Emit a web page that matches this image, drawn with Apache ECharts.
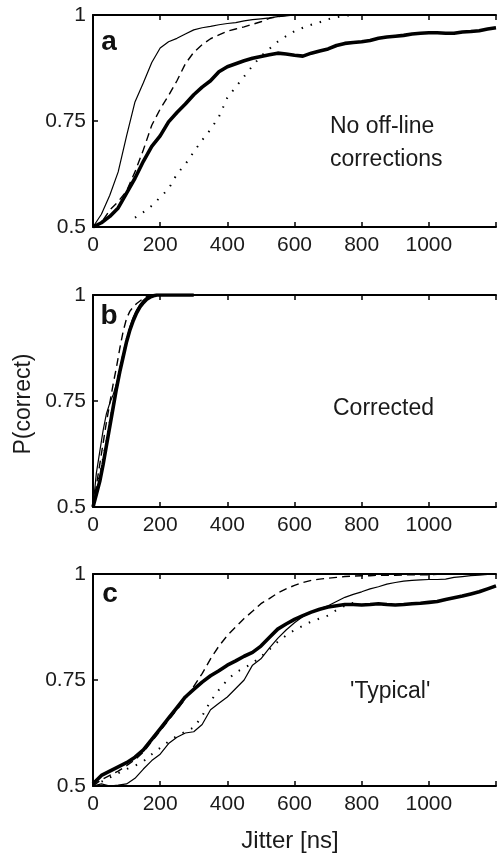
<!DOCTYPE html>
<html>
<head>
<meta charset="utf-8">
<script src="https://cdn.jsdelivr.net/npm/echarts@6/dist/echarts.min.js"></script>
<style>
html,body{margin:0;padding:0;background:#fff;}
#chart{width:499px;height:854px;}
</style>
</head>
<body>
<div id="chart"></div>
<script>
// ---------- data ----------
const xTicks = [0, 200, 400, 600, 800, 1000];
const yTicks = [0.5, 0.75, 1];

// Panel a : "No off-line corrections" (x step 25 ns)
const xA = [0,25,50,75,100,125,150,175,200,225,250,275,300,325,350,375,400,425,450,475,500,525,550,575,600,625,650,675,700,725,750,775,800,825,850,875,900,925,950,975,1000,1025,1050,1075,1100,1125,1150,1175,1200];
const thinA = [0.50,0.53,0.575,0.63,0.715,0.795,0.84,0.888,0.922,0.937,0.945,0.955,0.965,0.970,0.973,0.977,0.980,0.982,0.986,0.989,0.991,0.993,0.996,0.998,1,1,1,1,1,1,1,1,1,null,null,null,null,null,null,null,null,null,null,null,null,null,null,null,null];
const dashA = [0.50,0.51,0.54,0.56,0.585,0.63,0.682,0.74,0.778,0.81,0.845,0.885,0.912,0.93,0.944,0.953,0.962,0.967,0.972,0.978,0.984,0.992,0.996,0.999,1,1,1,1,1,1,1,1,1,null,null,null,null,null,null,null,null,null,null,null,null,null,null,null,null];
const thickA = [0.50,0.51,0.525,0.545,0.58,0.615,0.655,0.69,0.715,0.748,0.77,0.79,0.812,0.83,0.845,0.866,0.878,0.885,0.892,0.898,0.902,0.906,0.91,0.908,0.905,0.903,0.91,0.915,0.92,0.928,0.933,0.935,0.937,0.94,0.945,0.948,0.95,0.952,0.955,0.957,0.958,0.958,0.957,0.957,0.96,0.961,0.963,0.967,0.97];
const dotA = [null,null,null,null,null,0.522,0.535,0.55,0.57,0.59,0.625,0.648,0.677,0.705,0.73,0.76,0.805,0.83,0.855,0.88,0.903,0.92,0.937,0.95,0.962,0.97,0.977,0.983,0.99,0.995,0.998,1,1,null,null,null,null,null,null,null,null,null,null,null,null,null,null,null,null];

// Panel b : "Corrected" (x step 10 ns)
const xB = [0,10,20,30,40,50,60,70,80,90,100,110,120,130,140,150,160,170,180,190,200,210,220,230,240,250,260,270,280,290,300];
const thinB = [0.50,0.58,0.63,0.68,0.72,0.745,0.765,0.79,0.825,0.86,0.895,0.925,0.948,0.965,0.978,0.988,0.995,0.999,1,1,1,1,1,1,1,1,1,1,1,1,1];
const dashB = [0.50,0.55,0.60,0.65,0.70,0.745,0.79,0.83,0.875,0.915,0.945,0.962,0.972,0.98,0.986,0.992,0.996,0.999,1,1,1,1,1,1,1,1,1,1,1,1,1];
const thickB = [0.50,0.53,0.56,0.60,0.645,0.69,0.735,0.78,0.82,0.855,0.89,0.918,0.94,0.958,0.972,0.982,0.99,0.995,0.998,1,1,1,1,1,1,1,1,1,1,1,1];
const dotB = [0.50,0.54,0.575,0.615,0.655,0.70,0.745,0.785,0.825,0.86,0.895,0.92,0.942,0.96,0.973,0.983,0.99,0.996,1,1,1,1,1,1,1,1,1,1,1,1,1];

// Panel c : "'Typical'" (x step 25 ns)
const xC = xA;
const thinC = [0.50,0.505,0.50,0.502,0.505,0.518,0.54,0.56,0.575,0.60,0.615,0.625,0.628,0.645,0.68,0.695,0.71,0.73,0.75,0.785,0.80,0.825,0.848,0.868,0.885,0.90,0.91,0.918,0.925,0.935,0.945,0.952,0.958,0.965,0.97,0.976,0.98,0.983,0.985,0.986,0.987,0.987,0.988,0.992,0.994,0.996,0.997,0.999,1.0];
const dashC = [0.50,0.515,0.525,0.535,0.548,0.562,0.58,0.605,0.63,0.655,0.68,0.705,0.735,0.765,0.80,0.83,0.855,0.875,0.895,0.912,0.93,0.942,0.955,0.965,0.973,0.98,0.985,0.988,0.99,0.992,0.994,0.995,0.996,0.996,0.997,0.997,0.997,0.998,0.998,0.998,0.998,0.999,0.999,0.999,0.999,1,1,1,1];
const thickC = [0.505,0.525,0.535,0.545,0.555,0.568,0.585,0.61,0.635,0.66,0.685,0.71,0.728,0.745,0.76,0.772,0.785,0.795,0.806,0.815,0.83,0.85,0.87,0.882,0.893,0.902,0.91,0.917,0.922,0.925,0.928,0.928,0.927,0.928,0.93,0.928,0.927,0.928,0.93,0.931,0.933,0.935,0.94,0.944,0.948,0.953,0.958,0.965,0.972];
const dotC = [0.50,0.51,0.52,0.53,0.54,0.548,0.558,0.575,0.59,0.605,0.618,0.628,0.638,0.665,0.70,0.727,0.75,0.768,0.778,0.79,0.805,0.822,0.84,0.855,0.868,0.878,0.888,0.895,0.902,0.915,0.925,0.932,null,null,null,null,null,null,null,null,null,null,null,null,null,null,null,null,null];

const panelLetters = ['a', 'b', 'c'];
const panelNotes = [['No off-line', 'corrections'], ['Corrected'], ["'Typical'"]];

// ---------- chart ----------
const FONT = '"Liberation Sans", Arial, Helvetica, sans-serif';
const chart = echarts.init(document.getElementById('chart'), null, {renderer: 'canvas'});

const gridTops = [15, 295, 574];
const gridH = 212;

function pairs(xs, ys) {
  const out = [];
  xs.forEach((x, i) => { if (ys[i] !== null && ys[i] !== undefined) out.push([x, ys[i]]); });
  return out;
}

const grids = gridTops.map(t => ({left: 93, right: -6, top: t, height: gridH, containLabel: false}));
const xAxes = [];
const yAxes = [];
gridTops.forEach((t, i) => {
  xAxes.push({
    gridIndex: i, type: 'value', position: 'bottom', min: 0, max: 1200, interval: 200,
    axisLine: {show: true, onZero: false, lineStyle: {color: '#000', width: 2}},
    axisTick: {show: true, inside: true, length: 5, lineStyle: {color: '#000', width: 1.5}},
    axisLabel: {show: true, fontSize: 21, color: '#1a1a1a', fontFamily: FONT, margin: 8,
      formatter: v => (xTicks.indexOf(v) >= 0 ? String(v) : '')},
    splitLine: {show: false}
  });
  xAxes.push({
    gridIndex: i, type: 'value', position: 'top', min: 0, max: 1200, interval: 200,
    axisLine: {show: true, onZero: false, lineStyle: {color: '#000', width: 2}},
    axisTick: {show: true, inside: true, length: 5, lineStyle: {color: '#000', width: 1.5}},
    axisLabel: {show: false},
    splitLine: {show: false}
  });
  yAxes.push({
    gridIndex: i, type: 'value', min: 0.5, max: 1, interval: 0.25,
    axisLine: {show: true, onZero: false, lineStyle: {color: '#000', width: 2}},
    axisTick: {show: true, inside: true, length: 5, lineStyle: {color: '#000', width: 1.5}},
    axisLabel: {show: true, fontSize: 21, color: '#1a1a1a', fontFamily: FONT, margin: 7,
      formatter: v => (yTicks.indexOf(v) >= 0 ? String(v) : '')},
    splitLine: {show: false}
  });
});

const styles = {
  thin:  {color: '#000', width: 1.2, type: 'solid'},
  dash:  {color: '#000', width: 1.4, type: [8, 5]},
  dot:   {color: '#000', width: 2, type: [1.5, 8]},
  thick: {color: '#000', width: 3.6, type: 'solid'}
};

const panels = [
  {x: xA, thin: thinA, dash: dashA, dot: dotA, thick: thickA},
  {x: xB, thin: thinB, dash: dashB, dot: dotB, thick: thickB},
  {x: xC, thin: thinC, dash: dashC, dot: dotC, thick: thickC}
];

const series = [];
panels.forEach((p, i) => {
  ['dot', 'dash', 'thin', 'thick'].forEach(k => {
    series.push({
      type: 'line', xAxisIndex: i * 2, yAxisIndex: i,
      data: pairs(p.x, p[k]), showSymbol: false, symbol: 'none',
      lineStyle: styles[k], silent: true, z: k === 'thick' ? 5 : 3
    });
  });
});

const graphics = [];
const letterPos = [[109, 42], [109, 316], [110, 594]];
panelLetters.forEach((l, i) => {
  graphics.push({type: 'text', left: null, x: letterPos[i][0], y: letterPos[i][1],
    style: {text: l, font: 'bold 28px ' + FONT, fill: '#111', align: 'center', verticalAlign: 'middle'}});
});
const notePos = [[330, 127, 33], [333, 409, 0], [350, 692, 0]];
panelNotes.forEach((lines, i) => {
  lines.forEach((s, j) => {
    graphics.push({type: 'text', x: notePos[i][0], y: notePos[i][1] + j * notePos[i][2],
      style: {text: s, font: '23px ' + FONT, fill: '#1a1a1a', align: 'left', verticalAlign: 'middle'}});
  });
});
graphics.push({type: 'text', x: 24, y: 404, rotation: Math.PI / 2,
  style: {text: 'P(correct)', font: '23px ' + FONT, fill: '#1a1a1a', align: 'center', verticalAlign: 'middle'}});
graphics.push({type: 'text', x: 290, y: 841,
  style: {text: 'Jitter [ns]', font: '24px ' + FONT, fill: '#1a1a1a', align: 'center', verticalAlign: 'middle'}});

chart.setOption({
  animation: false,
  backgroundColor: '#fff',
  grid: grids,
  xAxis: xAxes,
  yAxis: yAxes,
  series: series,
  graphic: graphics
});
</script>
</body>
</html>
